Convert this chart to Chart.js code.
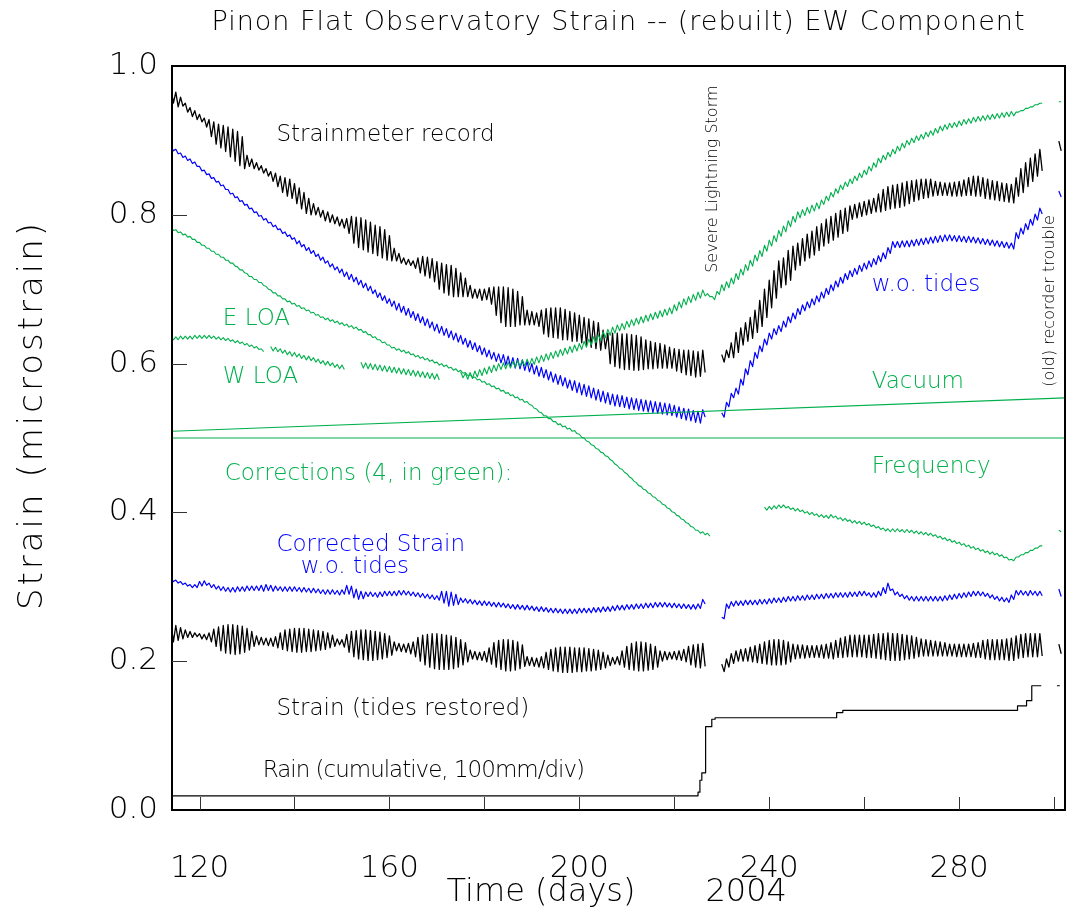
<!DOCTYPE html>
<html>
<head>
<meta charset="utf-8">
<script src="https://cdn.jsdelivr.net/npm/chart.js@4.4.1/dist/chart.umd.min.js"></script>
<style>
  html, body { margin: 0; padding: 0; background: #fff; }
</style>
</head>
<body>
<canvas id="chart" width="1068" height="910"></canvas>
<script>
// Day of year 2004 for the first entry of every daily array below.
// Daily arrays hold the tidal peak (Hi) and trough (Lo) of each day in 0.001 microstrain.
const FIRST_DAY = 114;

const strainHi = [970,965,958,950,944,940,935,930,928,925,
  922,920,918,915,912,905,880,875,870,866,
  862,858,856,852,850,848,842,836,830,822,
  815,810,806,804,800,797,794,795,798,797,
  796,793,790,786,784,780,772,755,748,742,
  740,738,742,744,743,741,737,735,733,732,
  728,722,715,705,700,700,700,702,703,703,
  703,702,700,697,690,672,670,668,672,674,
  675,675,675,673,670,668,665,662,660,657,
  655,645,641,641,641,640,640,639,638,636,
  632,630,628,627,625,622,620,619,618,618,
  617,616,618,null,null,null,612,618,628,642,
  648,655,662,672,685,700,712,725,738,742,
  752,758,762,768,774,778,784,788,794,798,
  802,806,809,812,814,816,818,820,822,828,
  834,838,840,841,843,845,846,847,848,848,
  848,845,844,843,843,844,845,847,850,852,
  852,850,848,846,845,843,842,841,850,862,
  870,876,882,888,null,null,null,899];
const strainLo = [950,945,946,938,932,928,925,918,905,895,
  890,885,878,872,866,862,865,862,860,856,
  852,845,838,830,825,822,815,808,802,800,
  800,797,792,790,788,785,782,775,762,756,
  753,750,748,745,742,739,738,738,735,733,
  732,728,722,718,715,710,700,695,692,690,
  690,690,690,688,688,685,686,680,665,655,
  650,650,650,652,652,652,652,650,640,636,
  635,634,632,632,630,630,628,625,622,620,
  618,620,600,596,594,592,592,591,591,592,
  593,593,594,594,594,594,590,588,585,584,
  582,583,588,null,null,null,602,608,608,615,
  625,630,634,642,650,662,675,688,702,706,
  712,726,732,738,742,746,752,758,762,766,
  770,775,778,794,796,798,800,802,804,804,
  806,808,809,810,812,815,818,820,822,823,
  825,826,826,826,825,825,825,826,826,825,
  825,822,821,820,819,818,817,816,825,830,
  838,845,852,859,null,null,null,886];

const woTidesHi = [892,888,883,879,875,871,865,860,855,850,
  845,840,834,829,824,819,814,809,804,799,
  795,790,786,781,777,773,769,765,760,756,
  752,747,743,738,734,730,727,723,720,716,
  712,708,704,699,695,691,687,684,681,677,
  674,670,667,663,660,656,653,650,647,644,
  641,638,634,631,628,624,621,618,615,613,
  612,610,608,607,605,603,600,597,595,592,
  589,586,584,581,578,577,574,572,570,567,
  565,563,561,559,558,557,555,554,553,552,
  551,550,549,548,547,546,544,542,540,539,
  537,536,538,null,null,null,534,548,560,567,
  579,593,604,615,624,633,641,647,651,657,
  663,668,674,679,683,687,691,696,701,706,
  711,716,721,725,728,732,735,738,741,745,
  749,756,764,764,765,765,766,767,768,769,
  770,771,772,773,773,772,772,771,771,770,
  769,768,767,766,765,764,763,762,776,782,
  788,794,801,809,null,null,null,832];
const woTidesLo = [886,882,877,873,869,865,859,854,849,844,
  839,834,828,823,818,813,808,803,798,793,
  789,784,780,775,771,767,761,757,752,748,
  744,739,735,730,726,722,717,713,710,706,
  702,698,694,689,685,681,677,672,669,665,
  662,658,655,651,648,644,641,638,635,632,
  629,626,622,619,616,612,609,606,603,601,
  598,596,594,593,591,589,586,583,581,578,
  575,572,570,567,564,561,558,556,554,551,
  549,547,545,543,542,541,539,538,537,536,
  535,534,533,532,531,530,528,526,524,523,
  521,520,528,null,null,null,528,542,554,559,
  571,585,596,607,616,625,633,639,643,649,
  655,660,666,671,675,679,683,688,693,698,
  703,708,713,717,720,724,727,730,733,737,
  741,748,756,756,757,757,758,759,760,761,
  762,763,764,765,765,764,764,763,763,762,
  761,760,759,758,757,756,755,754,768,774,
  780,786,793,801,null,null,null,824];

const eLoaHi = [783,780,777,774,771,767,763,759,755,751,
  747,743,739,735,730,726,721,717,713,709,
  704,699,695,691,687,684,681,678,675,672,
  669,666,663,661,659,657,655,653,651,649,
  646,643,639,636,632,629,625,622,620,618,
  616,613,611,609,607,605,602,600,598,595,
  593,591,588,585,582,579,576,573,570,567,
  564,561,558,555,552,549,544,539,534,530,
  526,522,519,516,513,510,505,500,495,490,
  485,480,475,469,463,458,452,446,440,435,
  430,425,420,415,410,405,400,395,390,385,
  380,376,374,372,null,null,null,null,null,null,
  null,null,null,null,null,407,408,409,410,410,
  408,406,405,403,401,400,398,397,396,397,
  395,393,392,390,389,388,387,385,383,381,
  379,378,378,378,377,377,376,375,374,373,
  372,370,368,366,364,362,360,358,356,354,
  352,350,348,347,345,343,340,337,340,343,
  346,349,352,355,null,null,null,376];
const eLoaLo = [779,776,773,770,767,763,759,755,751,747,
  743,739,735,731,726,722,717,713,709,705,
  700,695,691,687,683,680,677,674,671,668,
  665,662,659,657,655,653,651,649,647,645,
  642,639,635,632,628,625,621,618,616,614,
  612,609,607,605,603,601,598,596,594,591,
  589,587,584,581,578,575,572,569,566,563,
  560,557,554,551,548,545,540,535,530,526,
  522,518,515,512,509,506,501,496,491,486,
  481,476,471,465,459,454,448,442,436,431,
  426,421,416,411,406,401,396,391,386,381,
  376,372,370,368,null,null,null,null,null,null,
  null,null,null,null,null,403,404,405,406,406,
  404,402,401,399,397,396,394,393,392,393,
  391,389,388,386,385,384,383,381,379,377,
  375,374,374,374,373,373,372,371,370,369,
  368,366,364,362,360,358,356,354,352,350,
  348,346,344,343,341,339,336,335,340,343,
  346,349,352,355,null,null,null,374];

const wLoaHi = [636,636,637,637,637,638,638,638,638,637,
  636,635,634,632,631,629,627,625,623,620,
  null,623,622,620,618,616,615,613,611,610,
  608,606,604,603,601,599,598,null,null,null,
  602,601,600,599,598,597,596,595,594,593,
  592,591,590,589,588,587,586,null,null,null,
  null,589,587,588,590,592,594,596,598,600,
  601,602,603,604,605,606,607,609,611,613,
  615,617,619,621,623,625,627,630,633,636,
  639,643,646,649,652,654,657,659,661,663,
  665,667,669,671,673,675,679,683,687,690,
  693,696,699,694,690,697,706,710,715,721,
  727,733,739,746,752,759,766,772,779,785,
  792,798,804,807,810,813,816,820,825,830,
  835,840,844,848,852,856,860,865,870,876,
  880,884,888,892,896,900,903,906,908,911,
  913,916,919,921,923,924,926,928,929,931,
  932,933,934,935,936,937,938,939,938,940,
  943,945,948,950,null,null,null,952];
const wLoaLo = [632,632,633,633,633,634,634,634,634,633,
  632,631,630,628,627,625,623,621,619,616,
  null,617,616,614,612,610,609,607,605,604,
  602,600,598,597,595,593,592,null,null,null,
  594,593,592,591,590,589,588,587,586,585,
  584,583,582,581,580,579,578,null,null,null,
  null,581,579,580,582,584,586,588,590,592,
  593,594,595,596,597,598,599,601,603,605,
  607,609,611,613,615,617,619,622,625,628,
  631,635,638,641,644,646,649,651,653,655,
  657,659,661,663,665,667,671,675,679,682,
  685,688,691,690,686,693,698,702,707,713,
  719,725,731,738,744,751,758,764,771,777,
  784,790,796,799,802,805,808,814,819,824,
  829,834,838,842,846,850,854,859,864,870,
  874,878,882,886,890,894,897,900,902,905,
  907,910,913,915,917,918,920,922,923,925,
  926,927,928,929,930,931,932,933,938,940,
  943,945,948,950,null,null,null,952];

const corrHi = [311,309,307,305,303,303,307,308,305,303,
  301,300,299,299,300,300,301,301,301,302,
  303,302,301,300,300,300,300,299,299,298,
  298,297,296,296,296,295,296,302,301,297,
  294,293,293,292,293,294,294,294,295,295,
  294,293,292,291,290,289,288,294,294,293,
  290,285,284,283,282,281,281,280,279,279,
  278,277,276,276,275,275,274,273,273,272,
  271,271,270,270,270,270,271,271,271,272,
  272,273,273,274,275,275,276,276,277,277,
  278,278,279,279,279,278,278,277,277,276,
  276,277,283,null,null,null,259,277,280,281,
  281,282,282,282,283,283,284,285,285,286,
  287,287,288,288,289,289,290,290,291,291,
  292,292,292,293,293,294,294,292,292,294,
  299,305,297,293,290,288,287,287,287,287,
  287,287,287,288,289,290,291,292,293,294,
  294,293,291,289,287,286,285,289,295,295,
  294,295,294,294,null,null,null,297];
const corrLo = [307,305,303,301,299,299,301,302,299,297,
  295,294,293,293,294,294,295,295,295,294,
  295,294,295,294,294,294,294,293,293,292,
  292,291,290,290,290,289,290,290,285,283,
  284,287,287,286,287,288,288,288,289,289,
  288,287,286,285,284,283,282,278,274,275,
  276,279,278,277,276,275,275,274,273,273,
  272,271,270,270,269,269,268,267,267,266,
  265,265,264,264,264,264,265,265,265,266,
  266,267,267,268,269,269,270,270,271,271,
  272,272,273,273,273,272,272,271,271,270,
  270,271,277,null,null,null,257,271,274,275,
  275,276,276,276,277,277,278,279,279,280,
  281,281,282,282,283,283,284,284,285,285,
  286,286,286,287,287,288,288,286,286,288,
  291,295,289,287,284,282,281,281,281,281,
  281,281,281,282,283,284,285,286,287,288,
  288,287,285,283,281,280,279,283,289,289,
  288,289,288,288,null,null,null,287];

const tidesHi = [251,248,245,242,240,238,237,236,238,243,
  246,248,249,249,248,247,244,240,234,232,
  231,231,233,238,242,243,244,244,244,243,
  242,241,240,238,235,230,229,236,240,241,
  242,242,241,240,239,237,234,226,224,223,
  224,226,232,235,236,237,237,236,235,234,
  232,229,225,215,213,212,213,218,225,228,
  229,229,228,226,222,206,205,204,206,212,
  216,218,219,219,219,218,218,218,217,216,
  215,212,208,205,206,214,220,224,226,226,
  225,223,220,214,213,212,213,214,216,220,
  222,223,224,null,null,null,196,203,210,214,
  216,217,219,221,223,226,228,229,229,228,
  226,223,222,222,221,221,221,222,223,225,
  228,231,233,235,235,235,235,235,236,237,
  237,238,237,237,236,235,234,232,230,229,
  228,227,226,225,223,223,223,223,223,224,
  225,228,229,229,229,229,230,231,234,236,
  237,237,237,237,null,null,null,223];
const tidesLo = [226,228,230,232,232,233,230,229,226,220,
  214,211,210,209,210,212,215,220,222,222,
  221,220,218,216,214,213,212,212,213,213,
  214,215,216,218,220,222,219,212,206,203,
  202,201,201,202,203,205,208,214,213,212,
  210,206,200,195,192,190,189,189,189,190,
  192,195,199,203,202,201,199,196,192,189,
  187,187,188,190,193,194,193,192,191,189,
  187,186,185,185,185,186,186,187,187,188,
  189,191,194,196,195,192,189,188,187,187,
  188,189,192,200,202,203,202,201,199,195,
  192,191,193,null,null,null,186,192,197,200,
  200,200,199,198,197,196,195,195,195,196,
  199,203,204,204,205,205,205,204,204,203,
  205,205,206,206,206,206,205,205,204,203,
  202,201,201,201,202,203,204,206,207,207,
  207,207,207,207,207,206,206,206,206,205,
  205,203,202,202,202,202,201,201,204,205,
  206,206,206,207,null,null,null,210];

// Cumulative rain (100 mm per 0.1 division), stepped
const rainDays = [114, 225.0, 225.4, 225.8, 226.6, 227.9, 228.6, 253.0, 254.2, 255.5, 291.7, 292.3, 294.2, 295.3, 297.3, 297.4, 300.6, 301.2];
const rainVals = [0.019, 0.024, 0.040, 0.050, 0.112, 0.122, 0.124, 0.124, 0.131, 0.134, 0.134, 0.140, 0.147, 0.167, 0.167, null, 0.167, 0.167];

// Straight corrections
const vacuumDays = [114, 302.5];
const vacuumVals = [0.509, 0.554];
const freqDays = [114, 302.5];
const freqVals = [0.5, 0.5];

// Axes
const xMin = 114.2, xMax = 302.3;
const xLabelDays = [120, 160, 200, 240, 280];
const xTickDays = [120, 140, 160, 180, 200, 220, 240, 260, 280, 300];
const yLabelValues = [0, 0.2, 0.4, 0.6, 0.8, 1.0];
const yTickValues = [0.2, 0.4, 0.6, 0.8];

const GREEN = '#00b04c';
const BLUE = '#0000ff';
const BLACK = '#000000';
const FONT = '"DejaVu Sans", "Liberation Sans", sans-serif';
const WEIGHT = '200';

const notes = [
  { text: 'Strainmeter record', day: 136.2, val: 0.899, color: BLACK },
  { text: 'E LOA', day: 124.9, val: 0.652, color: GREEN },
  { text: 'W LOA', day: 124.9, val: 0.574, color: GREEN },
  { text: 'Corrections (4, in green):', day: 125.3, val: 0.443, color: GREEN },
  { text: 'Corrected Strain', day: 136.2, val: 0.348, color: BLUE },
  { text: 'w.o. tides', day: 141.3, val: 0.319, color: BLUE },
  { text: 'Strain (tides restored)', day: 136.2, val: 0.128, color: BLACK },
  { text: 'Rain (cumulative, 100mm/div)', day: 133.3, val: 0.044, color: BLACK, spacing: -1 },
  { text: 'w.o. tides', day: 261.6, val: 0.698, color: BLUE },
  { text: 'Vacuum', day: 261.6, val: 0.567, color: GREEN },
  { text: 'Frequency', day: 261.6, val: 0.453, color: GREEN },
  { text: 'Severe Lightning Storm', day: 228.9, val: 0.722, color: BLACK, vertical: true },
  { text: '(old) recorder trouble', day: 299.9, val: 0.569, color: BLACK, vertical: true }
];

function zigzag(hi, lo) {
  const pts = [];
  for (let i = 0; i < hi.length; i++) {
    const day = FIRST_DAY + i;
    if (hi[i] === null) {
      pts.push({ x: day, y: null });
      continue;
    }
    pts.push({ x: day, y: hi[i] / 1000 });
    pts.push({ x: day + 0.5, y: lo[i] / 1000 });
  }
  return pts;
}

function pairs(days, vals) {
  return days.map((d, i) => ({ x: d, y: vals[i] }));
}

function line(data, color, width, extra) {
  return Object.assign({
    data: data,
    borderColor: color,
    borderWidth: width,
    pointRadius: 0,
    fill: false,
    tension: 0,
    spanGaps: false,
    borderJoinStyle: 'round'
  }, extra || {});
}

const decorations = {
  id: 'decorations',
  afterDatasetsDraw(chart) {
    const ctx = chart.ctx;
    const a = chart.chartArea;
    const x = chart.scales.x;
    const y = chart.scales.y;
    ctx.save();

    // frame
    ctx.strokeStyle = BLACK;
    ctx.lineWidth = 2;
    ctx.strokeRect(a.left, a.top, a.right - a.left, a.bottom - a.top);

    // inward ticks
    ctx.strokeStyle = '#333';
    ctx.lineWidth = 1;
    ctx.beginPath();
    xTickDays.forEach(d => {
      const px = Math.round(x.getPixelForValue(d)) + 0.5;
      ctx.moveTo(px, a.bottom);
      ctx.lineTo(px, a.bottom - 13);
    });
    yTickValues.forEach(v => {
      const py = Math.round(y.getPixelForValue(v)) + 0.5;
      ctx.moveTo(a.left, py);
      ctx.lineTo(a.left + 15, py);
    });
    ctx.stroke();

    // labels inside the plot
    ctx.textBaseline = 'alphabetic';
    ctx.textAlign = 'left';
    notes.forEach(n => {
      const px = x.getPixelForValue(n.day);
      const py = y.getPixelForValue(n.val);
      ctx.fillStyle = n.color;
      ctx.letterSpacing = (n.spacing || 0) + 'px';
      if (n.vertical) {
        ctx.font = WEIGHT + ' 16px ' + FONT;
        ctx.save();
        ctx.translate(px, py);
        ctx.rotate(-Math.PI / 2);
        ctx.fillText(n.text, 0, 0);
        ctx.restore();
      } else {
        ctx.font = WEIGHT + ' 23px ' + FONT;
        ctx.fillText(n.text, px, py);
      }
    });

    // title and axis titles
    const mid = (a.left + a.right) / 2;
    ctx.fillStyle = BLACK;
    ctx.textAlign = 'center';
    ctx.font = WEIGHT + ' 27px ' + FONT;
    ctx.letterSpacing = '1px';
    ctx.fillText('Pinon Flat Observatory Strain -- (rebuilt) EW Component', mid, 30);

    ctx.font = WEIGHT + ' 32px ' + FONT;
    ctx.letterSpacing = '0px';
    ctx.textAlign = 'left';
    ctx.fillText('Time (days)', mid - 172, 901);
    ctx.fillText('2004', mid + 87, 901);

    ctx.save();
    ctx.translate(42, 415);
    ctx.rotate(-Math.PI / 2);
    ctx.textAlign = 'center';
    ctx.font = WEIGHT + ' 34px ' + FONT;
    ctx.letterSpacing = '3px';
    ctx.fillText('Strain (microstrain)', 0, 0);
    ctx.restore();

    ctx.restore();
  }
};

new Chart(document.getElementById('chart'), {
  type: 'line',
  data: {
    datasets: [
      line(pairs(freqDays, freqVals), GREEN, 1.2),
      line(pairs(vacuumDays, vacuumVals), GREEN, 1.2),
      line(zigzag(eLoaHi, eLoaLo), GREEN, 1.1),
      line(zigzag(wLoaHi, wLoaLo), GREEN, 1.1),
      line(pairs(rainDays, rainVals), BLACK, 1.2, { stepped: true }),
      line(zigzag(corrHi, corrLo), BLUE, 1.2),
      line(zigzag(tidesHi, tidesLo), BLACK, 1.3),
      line(zigzag(woTidesHi, woTidesLo), BLUE, 1.2),
      line(zigzag(strainHi, strainLo), BLACK, 1.3)
    ]
  },
  options: {
    responsive: false,
    animation: false,
    devicePixelRatio: 1,
    layout: { padding: { top: 66, right: 3, bottom: 0, left: 0 } },
    plugins: {
      legend: { display: false },
      tooltip: { enabled: false },
      title: { display: false }
    },
    scales: {
      x: {
        type: 'linear',
        min: xMin,
        max: xMax,
        afterFit: s => { s.height = 100; },
        afterBuildTicks: s => { s.ticks = xLabelDays.map(v => ({ value: v })); },
        grid: { drawOnChartArea: false, drawTicks: false },
        border: { display: false },
        ticks: {
          color: BLACK,
          padding: 40,
          maxRotation: 0,
          autoSkip: false,
          font: { family: FONT, size: 31, weight: WEIGHT },
          callback: v => String(v)
        }
      },
      y: {
        type: 'linear',
        min: 0,
        max: 1,
        afterFit: s => { s.width = 172; },
        afterBuildTicks: s => { s.ticks = yLabelValues.map(v => ({ value: v })); },
        grid: { drawOnChartArea: false, drawTicks: false },
        border: { display: false },
        ticks: {
          color: BLACK,
          padding: 14,
          font: { family: FONT, size: 31, weight: WEIGHT },
          callback: v => Number(v).toFixed(1)
        }
      }
    }
  },
  plugins: [decorations]
});
</script>
</body>
</html>
